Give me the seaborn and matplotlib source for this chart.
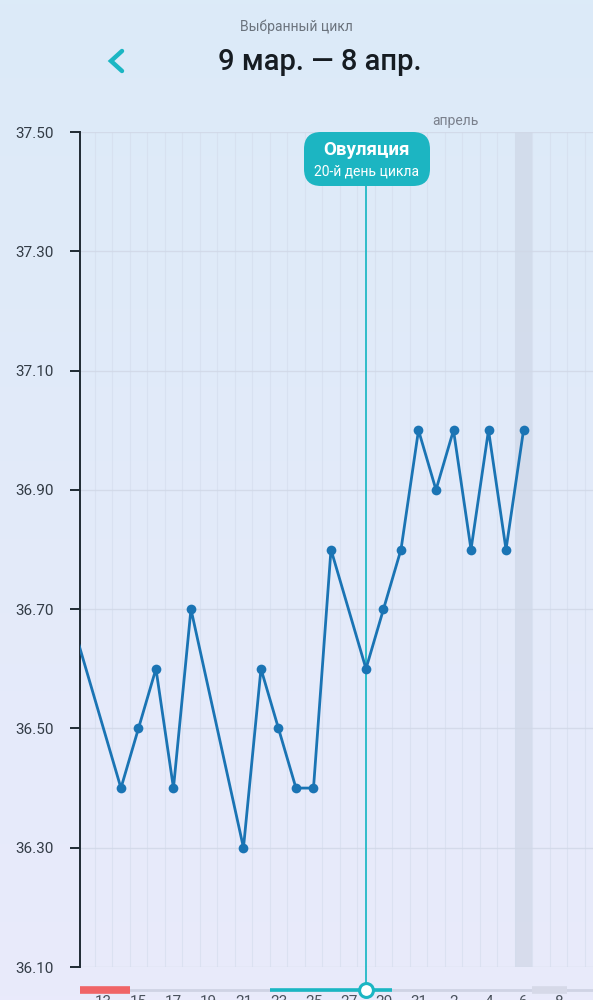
import numpy as np
import pandas as pd
import matplotlib
matplotlib.use("Agg")
import matplotlib.pyplot as plt
import seaborn as sns
from matplotlib.patches import FancyBboxPatch

# day number counted from 1 March (32 = 1 April)
days = [11, 14, 15, 16, 17, 18, 21, 22, 23, 24, 25, 26, 28, 29, 30, 31, 32, 33, 34, 35, 36, 37]
temps = [36.70, 36.40, 36.50, 36.60, 36.40, 36.70, 36.30, 36.60, 36.50, 36.40, 36.40,
         36.80, 36.60, 36.70, 36.80, 37.00, 36.90, 37.00, 36.80, 37.00, 36.80, 37.00]
tick_days = [13, 15, 17, 19, 21, 23, 25, 27, 29, 31, 33, 35, 37, 39]
tick_labels = ['13', '15', '17', '19', '21', '23', '25', '27', '29', '31', '2', '4', '6', '8']
y_ticks = [36.10, 36.30, 36.50, 36.70, 36.90, 37.10, 37.30, 37.50]
ovulation_day = 28
today = 37
period = (8.5, 14.5)
fertile = (22.5, 29.5)
predicted = (37.5, 39.5)

sns.set_theme(style="white")
plt.rcParams['font.family'] = ['Roboto', 'DejaVu Sans']

df = pd.DataFrame({'day': days, 'temp': temps})

fig = plt.figure(figsize=(5.93, 10), dpi=100)

# background gradient
bg = fig.add_axes([0, 0, 1, 1], zorder=-10)
grad = np.linspace(0, 1, 256).reshape(-1, 1)
top = np.array([220, 235, 248]) / 255
bot = np.array([233, 234, 251]) / 255
img = top + (bot - top) * grad[:, :, None]
bg.imshow(img, aspect='auto', extent=[0, 1, 0, 1])
bg.axis('off')

ax = fig.add_axes([80 / 593, 33 / 1000, 513 / 593, 835 / 1000])
ax.set_facecolor('none')

# day grid and today band
ax.set_xticks(np.arange(8.5, 42, 1), minor=True)
ax.grid(which='minor', axis='x', color='#d3dcec', lw=0.8, alpha=0.6)
ax.grid(which='major', axis='y', color='#d0d7e6', lw=1.0, alpha=0.8)
ax.grid(which='major', axis='x', visible=False)
ax.axvspan(today - 0.5, today + 0.5, color='#c9d1e2', alpha=0.55, lw=0, zorder=0)

sns.lineplot(data=df, x='day', y='temp', ax=ax, color='#1a74b4', lw=2.0,
             marker='o', markersize=7, markeredgewidth=0, zorder=3)

ax.set_xlim(11.66, 40.97)
ax.set_ylim(36.10, 37.50)
ax.set_yticks(y_ticks)
ax.set_yticklabels([f'{v:.2f}' for v in y_ticks])
ax.set_xticks(tick_days)
ax.set_xticklabels(tick_labels)
ax.set_xlabel('')
ax.set_ylabel('')
for s in ['top', 'right', 'bottom']:
    ax.spines[s].set_visible(False)
ax.spines['left'].set_color('#1f2a33')
ax.spines['left'].set_linewidth(1.4)
ax.tick_params(axis='y', which='major', length=7, width=1.4, color='#1f2a33',
               labelsize=11, labelcolor='#333c46', pad=12, left=True)
ax.tick_params(axis='x', which='major', length=0, labelsize=11, labelcolor='#4a525c', pad=20)
ax.tick_params(axis='x', which='minor', length=0)

# bottom cycle strip (below the plot area)
tr = ax.get_xaxis_transform()
ys = -23 / 835
ax.plot([11.66, 40.97], [ys, ys], color='#cfd3e4', lw=2, clip_on=False, transform=tr,
        solid_capstyle='butt')
ax.plot([max(period[0], 11.66), period[1]], [ys, ys], color='#f06467', lw=5.5,
        clip_on=False, transform=tr, solid_capstyle='butt')
ax.plot(list(fertile), [ys, ys], color='#1bb6c3', lw=2.6, clip_on=False, transform=tr,
        solid_capstyle='butt')
ax.plot(list(predicted), [ys, ys], color='#d6d9e8', lw=5.5, clip_on=False, transform=tr,
        solid_capstyle='butt')

# ovulation marker
ax.plot([ovulation_day, ovulation_day], [ys, 0.95], color='#22b9c6', lw=1.3,
        clip_on=False, transform=tr, zorder=2)
ax.plot([ovulation_day], [ys], marker='o', markersize=10, markerfacecolor='white',
        markeredgecolor='#1bb6c3', markeredgewidth=2.2, clip_on=False, transform=tr, zorder=5)

badge = FancyBboxPatch((3.04, 10 - 1.86), 1.26, 0.54,
                       boxstyle='round,pad=0,rounding_size=0.17',
                       transform=fig.dpi_scale_trans, fc='#1cb5c2', ec='none', zorder=6)
fig.patches.append(badge)
fig.text(367 / 593, 1 - 150 / 1000, 'Овуляция', ha='center', va='center', color='white',
         fontsize=13.5, fontweight='bold', zorder=7)
fig.text(367 / 593, 1 - 172 / 1000, '20-й день цикла', ha='center', va='center',
         color='white', fontsize=10, zorder=7)

ax.text(33.1, 1 + 11 / 835, 'апрель', transform=tr, ha='center', va='center',
        fontsize=10, color='#7a808c')

# header
fig.text(296 / 593, 1 - 27 / 1000, 'Выбранный цикл', ha='center', va='center',
         fontsize=10, color='#6b737d')
fig.text(320 / 593, 1 - 62 / 1000, '9 мар. — 8 апр.', ha='center', va='center',
         fontsize=21, fontweight='medium', color='#161c22')
fig.lines.append(plt.Line2D([122 / 593, 111 / 593, 122 / 593],
                            [1 - 51 / 1000, 1 - 61 / 1000, 1 - 71 / 1000],
                            transform=fig.transFigure, color='#1bb6c3', lw=3.2,
                            solid_capstyle='round', solid_joinstyle='miter'))

fig.savefig('out.png', dpi=100)
